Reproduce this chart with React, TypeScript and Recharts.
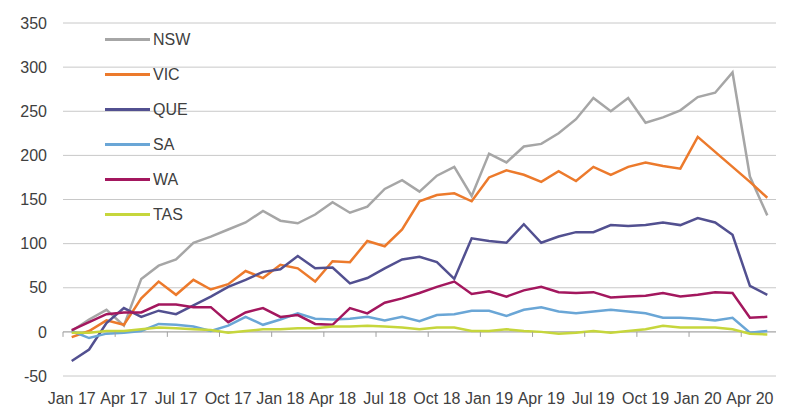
import { CartesianGrid, Legend, Line, LineChart, ReferenceLine, XAxis, YAxis } from "recharts";

const months = [
  "Jan 17", "Feb 17", "Mar 17", "Apr 17", "May 17", "Jun 17", "Jul 17", "Aug 17", "Sep 17", "Oct 17", "Nov 17", "Dec 17",
  "Jan 18", "Feb 18", "Mar 18", "Apr 18", "May 18", "Jun 18", "Jul 18", "Aug 18", "Sep 18", "Oct 18", "Nov 18", "Dec 18",
  "Jan 19", "Feb 19", "Mar 19", "Apr 19", "May 19", "Jun 19", "Jul 19", "Aug 19", "Sep 19", "Oct 19", "Nov 19", "Dec 19",
  "Jan 20", "Feb 20", "Mar 20", "Apr 20", "May 20",
];

const nsw = [1, 14, 25, 7, 60, 75, 82, 101, 108, 116, 124, 137, 126, 123, 133, 147, 135, 142, 162, 172, 159, 177, 187, 154, 202, 192, 210, 213, 225, 241, 265, 250, 265, 237, 243, 251, 266, 271, 294, 176, 132];
const vic = [-6, 1, 13, 8, 38, 57, 42, 59, 48, 54, 69, 61, 76, 72, 57, 80, 79, 103, 97, 116, 148, 155, 157, 148, 175, 183, 178, 170, 182, 171, 187, 178, 187, 192, 188, 185, 221, 204, 187, 170, 152];
const que = [-33, -20, 10, 27, 17, 24, 20, 30, 40, 51, 59, 68, 71, 86, 72, 73, 55, 61, 72, 82, 85, 79, 60, 106, 103, 101, 122, 101, 108, 113, 113, 121, 120, 121, 124, 121, 129, 124, 110, 52, 42];
const sa = [1, -7, -2, -1, 1, 9, 8, 6, 1, 7, 17, 8, 14, 21, 15, 14, 15, 17, 13, 17, 12, 19, 20, 24, 24, 18, 25, 28, 23, 21, 23, 25, 23, 21, 16, 16, 15, 13, 16, -1, 1];
const wa = [2, 11, 20, 22, 22, 31, 31, 28, 28, 11, 22, 27, 17, 19, 9, 8, 27, 21, 33, 38, 44, 51, 57, 43, 46, 40, 47, 51, 45, 44, 45, 39, 40, 41, 44, 40, 42, 45, 44, 16, 17];
const tas = [-1, -1, 1, 1, 3, 5, 4, 3, 2, -1, 1, 3, 3, 4, 4, 6, 6, 7, 6, 5, 3, 5, 5, 1, 1, 3, 1, 0, -2, -1, 1, -1, 1, 3, 7, 5, 5, 5, 3, -2, -3];

const yTicks = [-50, 0, 50, 100, 150, 200, 250, 300, 350];

const series = [
  { key: "NSW", values: nsw, color: "#a6a6a6" },
  { key: "VIC", values: vic, color: "#ec7a2c" },
  { key: "QUE", values: que, color: "#525090" },
  { key: "SA", values: sa, color: "#6aa6d6" },
  { key: "WA", values: wa, color: "#a3175e" },
  { key: "TAS", values: tas, color: "#c6d63c" },
];

const data = months.map((month, i) => {
  const row: Record<string, string | number> = { month };
  series.forEach((s) => {
    row[s.key] = s.values[i];
  });
  return row;
});

const WIDTH = 800;
const HEIGHT = 412;
const TOP = 23;
const BOTTOM = 36;
const LEFT = 63;
const RIGHT = 24;
const PLOT_H = HEIGHT - TOP - BOTTOM;
const PLOT_W = WIDTH - LEFT - RIGHT;
const BAND = PLOT_W / months.length;
const ZERO_UP = (PLOT_H * 50) / 400;
const FONT = "'Liberation Sans', Arial, sans-serif";

function MonthTick(props: any) {
  const { x, y, payload } = props;
  const tx = x - BAND / 2;
  return (
    <g>
      <line x1={tx} x2={tx} y1={y - ZERO_UP} y2={y - ZERO_UP + 5} stroke="#a0a0a0" />
      <text x={x} y={y + 28} textAnchor="middle" fill="#404040" fontSize={16} fontFamily={FONT}>
        {payload.value}
      </text>
    </g>
  );
}

function StateLegend() {
  return (
    <div style={{ fontFamily: FONT, fontSize: 16, color: "#404040" }}>
      {series.map((s) => (
        <div key={s.key} style={{ height: 35, display: "flex", alignItems: "center" }}>
          <span style={{ width: 45, height: 3, background: s.color, marginRight: 3 }} />
          <span>{s.key}</span>
        </div>
      ))}
    </div>
  );
}

export default function App() {
  return (
    <div style={{ position: "absolute", left: 0, top: 0, background: "#fff" }}>
      <LineChart width={WIDTH} height={HEIGHT} data={data} margin={{ top: TOP, right: RIGHT, bottom: 0, left: 0 }}>
        <CartesianGrid vertical={false} stroke="#c8c8c8" />
        <XAxis
          dataKey="month"
          scale="point"
          padding={{ left: BAND / 2, right: BAND / 2 }}
          interval={2}
          axisLine={false}
          tickLine={false}
          tickSize={0}
          tickMargin={0}
          tick={<MonthTick />}
          height={BOTTOM}
        />
        <YAxis
          domain={[-50, 350]}
          ticks={yTicks}
          width={LEFT}
          axisLine={false}
          tickLine={false}
          tickSize={0}
          tickMargin={16}
          tick={{ fill: "#404040", fontSize: 16, fontFamily: FONT }}
        />
        <ReferenceLine y={0} stroke="#a8a8a8" />
        <Legend
          layout="vertical"
          verticalAlign="middle"
          align="center"
          content={<StateLegend />}
          wrapperStyle={{ left: 105, top: 22, width: 120 }}
        />
        {series.map((s) => (
          <Line
            key={s.key}
            dataKey={s.key}
            stroke={s.color}
            strokeWidth={2.5}
            dot={false}
            isAnimationActive={false}
          />
        ))}
      </LineChart>
    </div>
  );
}
